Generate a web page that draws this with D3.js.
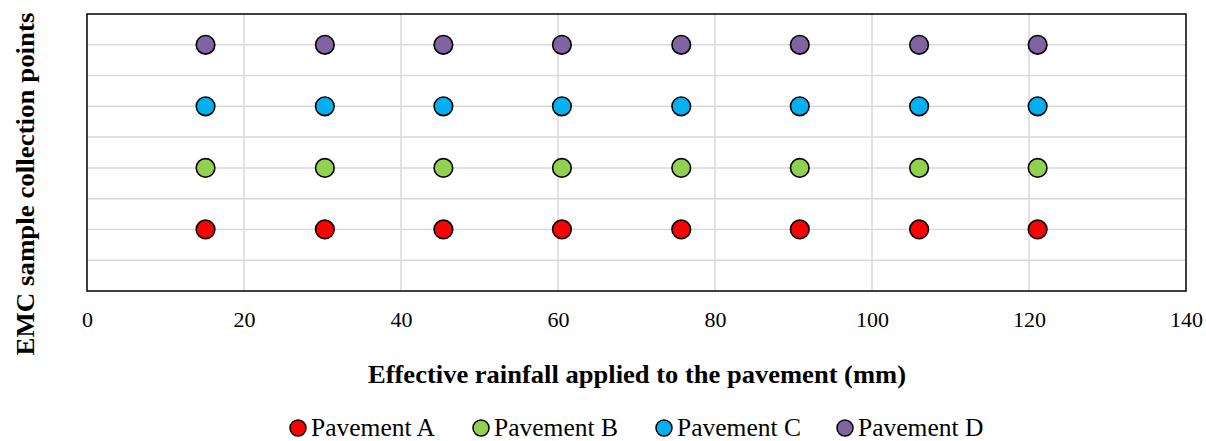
<!DOCTYPE html>
<html><head><meta charset="utf-8">
<script src="https://cdn.jsdelivr.net/npm/d3@7"></script>
<style>body{margin:0;background:#fff}svg{display:block}text{font-family:"Liberation Serif","Times New Roman",serif}</style>
</head><body><svg id="c" width="1206" height="441"></svg>
<script>
const rainfall = [15.1, 30.3, 45.4, 60.5, 75.7, 90.8, 106.0, 121.1];
const seriesNames = ["Pavement A", "Pavement B", "Pavement C", "Pavement D"];
const seriesLevel = [1, 2, 3, 4];
const seriesColors = ["#FF0000", "#92D050", "#00B0F0", "#8064A2"];
const xTicks = [0, 20, 40, 60, 80, 100, 120, 140];
const yGrid = [0.5, 1, 1.5, 2, 2.5, 3, 3.5, 4];

const svg = d3.select("#c");
const L = 87, R = 1186, T = 14, B = 291;
const x = d3.scaleLinear().domain([0, 140]).range([L, R]);
const y = d3.scaleLinear().domain([0, 4.5]).range([B, T]);
const serif = '"Liberation Serif","Times New Roman",serif';

// grid
svg.append("g").selectAll("line").data(xTicks.slice(1, -1)).join("line")
  .attr("x1", d => x(d)).attr("x2", d => x(d)).attr("y1", T).attr("y2", B)
  .attr("stroke", "#D9D9D9").attr("stroke-width", 1.5);
svg.append("g").selectAll("line").data(yGrid).join("line")
  .attr("x1", L).attr("x2", R).attr("y1", d => y(d)).attr("y2", d => y(d))
  .attr("stroke", "#D9D9D9").attr("stroke-width", 1.5);

// frame
svg.append("rect").attr("x", L).attr("y", T).attr("width", R - L).attr("height", B - T)
  .attr("fill", "none").attr("stroke", "#000").attr("stroke-width", 1.5);

// x axis labels
const xAxis = d3.axisBottom(x).tickValues(xTicks).tickSize(0).tickPadding(20).tickFormat(d3.format("d"));
const gx = svg.append("g").attr("transform", `translate(0,${B})`).call(xAxis)
  .attr("font-family", serif).attr("font-size", 22);
gx.select(".domain").remove();
gx.selectAll("text").attr("fill", "#000").style("font-family", serif);

// points
const data = [];
seriesNames.forEach((s, i) => rainfall.forEach(r => data.push({s: i, x: r, y: seriesLevel[i]})));
svg.append("g").selectAll("circle").data(data).join("circle")
  .attr("cx", d => x(d.x)).attr("cy", d => y(d.y)).attr("r", 9.3)
  .attr("fill", d => seriesColors[d.s]).attr("stroke", "#000").attr("stroke-width", 1.6);

// titles
svg.append("text").attr("x", 637).attr("y", 383).attr("text-anchor", "middle")
  .attr("font-size", 25).attr("font-weight", "bold")
  .attr("textLength", 538).attr("lengthAdjust", "spacingAndGlyphs")
  .text("Effective rainfall applied to the pavement (mm)");
svg.append("text").attr("transform", "translate(34,184) rotate(-90)").attr("text-anchor", "middle")
  .attr("font-size", 25).attr("font-weight", "bold")
  .attr("textLength", 343).attr("lengthAdjust", "spacingAndGlyphs")
  .text("EMC sample collection points");

// legend
const lx = [298, 481, 664, 845];
const lg = svg.append("g").selectAll("g").data(seriesNames).join("g")
  .attr("transform", (d, i) => `translate(${lx[i]},428)`);
lg.append("circle").attr("r", 8).attr("fill", (d, i) => seriesColors[i]).attr("stroke", "#000").attr("stroke-width", 1.5);
lg.append("text").attr("x", 13).attr("y", 7.5).attr("font-size", 25.5).text(d => d);
</script></body></html>
